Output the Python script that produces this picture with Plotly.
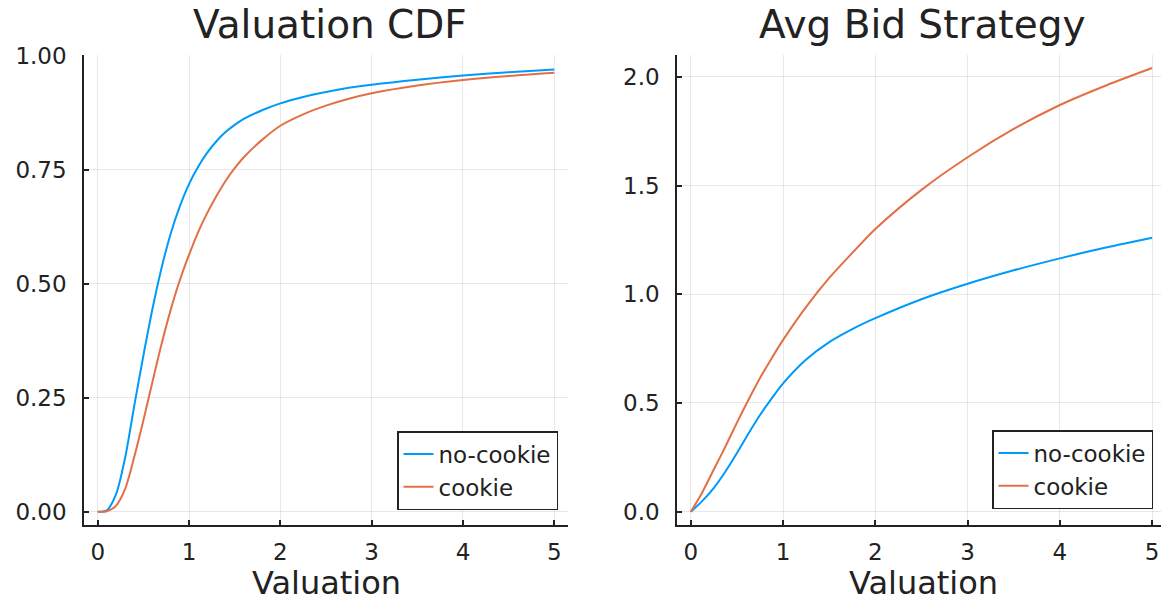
import plotly.graph_objects as go

# ---------------- data ----------------
cdf_x = [0, 0.1, 0.2, 0.3, 0.4, 0.5, 0.6, 0.7, 0.8, 0.9, 1.0, 1.1, 1.2, 1.3, 1.4, 1.5,
         1.6, 1.8, 2.0, 2.25, 2.5, 2.75, 3.0, 3.5, 4.0, 4.5, 5.0]
cdf_nocookie = [0.0, 0.003, 0.038, 0.118, 0.232, 0.342, 0.445, 0.535, 0.61, 0.67, 0.718,
                0.756, 0.787, 0.812, 0.832, 0.848, 0.861, 0.88, 0.895, 0.909, 0.92,
                0.929, 0.936, 0.947, 0.956, 0.963, 0.969]
cdf_cookie = [0.0, 0.001, 0.013, 0.05, 0.12, 0.2, 0.285, 0.368, 0.443, 0.508, 0.563,
              0.613, 0.655, 0.692, 0.725, 0.753, 0.777, 0.815, 0.846, 0.871, 0.89,
              0.905, 0.917, 0.934, 0.946, 0.955, 0.962]

bid_x = [0, 0.125, 0.25, 0.375, 0.5, 0.625, 0.75, 0.875, 1.0, 1.25, 1.5, 1.75, 2.0,
         2.5, 3.0, 3.5, 4.0, 4.5, 5.0]
bid_nocookie = [0.0, 0.05, 0.11, 0.185, 0.27, 0.36, 0.445, 0.52, 0.59, 0.70, 0.78,
                0.84, 0.89, 0.977, 1.048, 1.11, 1.165, 1.215, 1.26]
bid_cookie = [0.0, 0.09, 0.195, 0.30, 0.41, 0.515, 0.615, 0.705, 0.79, 0.942, 1.075, 1.19,
              1.30, 1.48, 1.63, 1.76, 1.87, 1.96, 2.04]

series_names = ["no-cookie", "cookie"]
x_ticks = [0, 1, 2, 3, 4, 5]
cdf_ticks = [0.0, 0.25, 0.5, 0.75, 1.0]
cdf_ticklabels = ["0.00", "0.25", "0.50", "0.75", "1.00"]
bid_ticks = [0.0, 0.5, 1.0, 1.5, 2.0]
bid_ticklabels = ["0.0", "0.5", "1.0", "1.5", "2.0"]
titles = ["Valuation CDF", "Avg Bid Strategy"]
xlabel = "Valuation"

# ---------------- style ----------------
W, H = 1161, 603
BLUE = "#009AFA"
ORANGE = "#E36F47"
FONT = "DejaVu Sans"
TXT = "#222222"

def px(x):
    return x / W

def py(y):
    return 1 - y / H

fig = go.Figure()

fig.add_trace(go.Scatter(x=cdf_x, y=cdf_nocookie, name=series_names[0], mode="lines",
                         line=dict(color=BLUE, width=2, shape="spline", smoothing=0.8),
                         xaxis="x", yaxis="y", legend="legend"))
fig.add_trace(go.Scatter(x=cdf_x, y=cdf_cookie, name=series_names[1], mode="lines",
                         line=dict(color=ORANGE, width=2, shape="spline", smoothing=0.8),
                         xaxis="x", yaxis="y", legend="legend"))
fig.add_trace(go.Scatter(x=bid_x, y=bid_nocookie, name=series_names[0], mode="lines",
                         line=dict(color=BLUE, width=2, shape="spline", smoothing=0.8),
                         xaxis="x2", yaxis="y2", legend="legend2"))
fig.add_trace(go.Scatter(x=bid_x, y=bid_cookie, name=series_names[1], mode="lines",
                         line=dict(color=ORANGE, width=2, shape="spline", smoothing=0.8),
                         xaxis="x2", yaxis="y2", legend="legend2"))

common = dict(showline=True, linecolor="#222222", linewidth=1.5, ticks="inside",
              ticklen=5, tickwidth=1.5, tickcolor="#222222", showgrid=True,
              gridcolor="rgba(0,0,0,0.09)", gridwidth=1, zeroline=False,
              tickfont=dict(family=FONT, size=23, color=TXT), mirror=False,
              fixedrange=True, automargin=False, ticklabeloverflow="allow")

ydom = [py(525), py(55)]
fig.update_layout(
    width=W, height=H,
    margin=dict(l=0, r=0, t=0, b=0, autoexpand=False),
    paper_bgcolor="white", plot_bgcolor="white",
    xaxis=dict(domain=[px(84), px(568)], range=[-0.15, 5.15], tickvals=x_ticks,
               anchor="y", ticklabelstandoff=6, **common),
    yaxis=dict(domain=ydom, range=[-0.029, 1.001], tickvals=cdf_ticks,
               ticktext=cdf_ticklabels, anchor="x", ticklabelstandoff=11, **common),
    xaxis2=dict(domain=[px(677), 1.0], range=[-0.15, 5.096], tickvals=x_ticks,
                anchor="y2", ticklabelstandoff=6, **common),
    yaxis2=dict(domain=ydom, range=[-0.061, 2.10], tickvals=bid_ticks,
                ticktext=bid_ticklabels, anchor="x2", ticklabelstandoff=11, **common),
    legend=dict(x=px(558), y=py(510), xanchor="right", yanchor="bottom",
                bordercolor="#222222", borderwidth=1.5, bgcolor="white",
                font=dict(family=FONT, size=23, color=TXT), tracegroupgap=0,
                itemwidth=30),
    legend2=dict(x=px(1153), y=py(509), xanchor="right", yanchor="bottom",
                 bordercolor="#222222", borderwidth=1.5, bgcolor="white",
                 font=dict(family=FONT, size=23, color=TXT), tracegroupgap=0,
                 itemwidth=30),
    showlegend=True,
)

# titles: anchored at the top edge so the text box stays inside the page
for text, x in [(titles[0], 330), (titles[1], 922)]:
    fig.add_annotation(text=text, x=px(x), y=1.0, xref="paper", yref="paper",
                       xanchor="center", yanchor="top", showarrow=False,
                       font=dict(family=FONT, size=39, color=TXT))

for x in [326, 923]:
    fig.add_annotation(text=xlabel, x=px(x), y=py(583), xref="paper", yref="paper",
                       xanchor="center", yanchor="middle", showarrow=False,
                       font=dict(family=FONT, size=32, color=TXT))

fig.write_html("out.html", config={"displayModeBar": False},
               post_script="document.body.style.margin='0';document.body.style.overflow='hidden';")
